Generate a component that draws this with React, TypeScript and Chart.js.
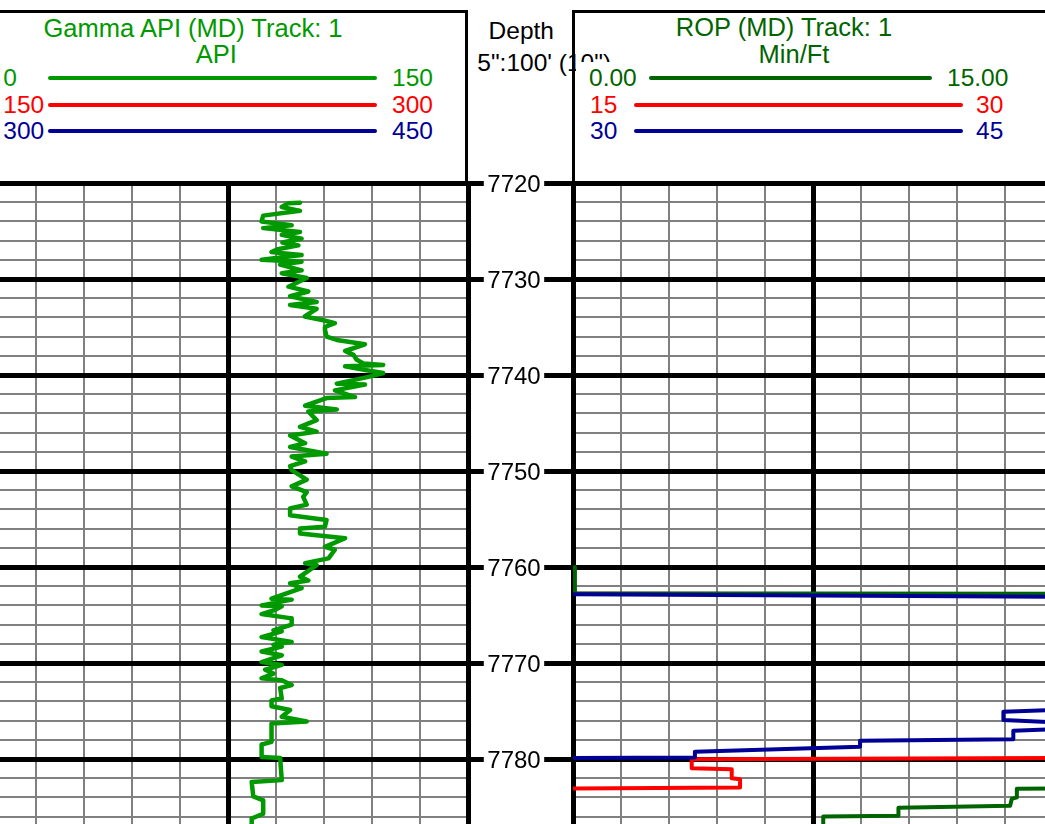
import React, { useEffect, useRef } from "react";
import { Chart, registerables } from "chart.js";

Chart.register(...registerables);

// ---------------- data ----------------
const depthTop = 7720;
const depthBottom = 7786.77;
const depthMinorStep = 2;
const depthMajorStep = 10;

const gammaDepth = [
  7722.05, 7722.1, 7722.5, 7722.9, 7723.4, 7724.0, 7724.4, 7724.7, 7725.1, 7725.4,
  7725.8, 7726.2, 7726.5, 7726.9, 7727.2, 7727.5, 7728.0, 7728.2, 7728.5, 7729.1,
  7729.4, 7729.9, 7730.8, 7731.3, 7731.8, 7732.4, 7732.7, 7733.1, 7733.9, 7734.3,
  7734.6, 7735.0, 7735.3, 7736.0, 7736.35, 7736.8, 7737.5, 7737.9, 7738.4, 7738.8,
  7738.95, 7739.1, 7739.5, 7739.8, 7740.2, 7740.9, 7741.0, 7741.6, 7742.3, 7742.4,
  7743.2, 7743.6, 7743.8, 7744.7, 7745.4, 7745.9, 7746.3, 7747.1, 7747.5, 7748.2,
  7748.5, 7749.0, 7749.5, 7749.9, 7750.9, 7751.6, 7752.2, 7752.7, 7753.5, 7753.9,
  7754.6, 7755.1, 7755.8, 7756.0, 7756.5, 7757.0, 7757.9, 7758.2, 7759.1, 7759.6,
  7759.8, 7761.0, 7761.4, 7761.7, 7762.2, 7763.3, 7763.4, 7764.0, 7764.1, 7764.5,
  7764.9, 7765.35, 7766.0, 7766.6, 7766.7, 7767.3, 7767.8, 7768.1, 7768.3, 7768.8,
  7769.2, 7769.9, 7770.2, 7770.7, 7771.1, 7771.6, 7771.8, 7772.3, 7772.6, 7773.7,
  7773.9, 7774.5, 7774.9, 7775.6, 7776.1, 7776.3, 7778.2, 7778.5, 7779.8, 7779.9,
  7782.2, 7782.4, 7783.9, 7784.3, 7785.7, 7786.2, 7786.8,
];
const gammaApi = [
  97.5, 93.9, 91.8, 97.5, 86.0, 85.5, 94.9, 86.0, 97.5, 91.8,
  98.0, 92.0, 97.0, 90.5, 88.6, 98.0, 85.5, 98.0, 91.3, 98.0,
  91.8, 99.6, 93.9, 100.1, 94.4, 102.7, 94.4, 102.7, 99.0, 104.8,
  108.4, 105.3, 105.3, 105.8, 109.0, 117.8, 111.6, 114.2, 115.2, 117.3,
  123.5, 111.6, 118.3, 123.5, 118.9, 109.0, 117.8, 108.4, 114.7, 105.8,
  99.1, 109.0, 100.1, 102.7, 97.5, 102.7, 94.4, 99.1, 94.4, 105.8,
  94.9, 99.1, 94.4, 94.9, 99.6, 94.9, 99.6, 98.5, 99.6, 94.4,
  94.4, 105.8, 105.3, 97.5, 97.5, 111.6, 105.3, 108.4, 106.4, 99.1,
  102.7, 97.5, 100.1, 94.4, 98.0, 88.6, 94.9, 85.5, 91.8, 89.5,
  85.5, 94.9, 94.9, 89.2, 91.8, 85.5, 94.9, 89.2, 91.8, 85.5,
  91.8, 85.5, 91.8, 86.6, 89.2, 85.5, 91.8, 94.9, 91.3, 91.8,
  88.6, 88.6, 94.4, 91.8, 99.6, 88.6, 88.6, 85.5, 85.5, 91.3,
  91.8, 82.4, 82.9, 86.0, 86.0, 82.4, 82.4,
];

const ropDepth = [
  7760.0, 7762.74, 7762.84, 7763.09, 7763.15, 7774.8, 7774.85, 7775.07, 7775.94, 7776.2,
  7776.5, 7776.85, 7777.05, 7777.95, 7778.09, 7778.72, 7779.24, 7779.85, 7780.03, 7780.97,
  7781.07, 7782.0, 7782.1, 7782.98, 7783.1, 7784.0, 7784.16, 7784.86, 7785.07, 7785.9,
  7786.0, 7786.8,
];
const ropMinFt = [
  0.06, 0.06, 30.0, 45.0, 50.0, 50.0, 45.3, 43.45, 43.45, 45.2,
  47.0, 45.3, 43.76, 43.76, 38.97, 38.97, 33.81, 33.81, 18.71, 18.71,
  19.96, 19.96, 20.22, 20.22, 13.87, 13.87, 13.71, 13.66, 10.17, 10.17,
  7.82, 7.82,
];

const gammaScales = [[0, 150], [150, 300], [300, 450]];
const gammaScaleLabels = [["0", "150"], ["150", "300"], ["300", "450"]];
const ropScales = [[0, 15], [15, 30], [30, 45]];
const ropScaleLabels = [["0.00", "15.00"], ["15", "30"], ["30", "45"]];

// ---------------- styles ----------------
const FONT = '"Liberation Sans", Arial, Helvetica, sans-serif';
const GAMMA_COLORS = ["#009900", "#ff0000", "#000096"];
const ROP_COLORS = ["#006400", "#ff0000", "#000096"];
const LOG_TOP = 183;
const LOG_BOTTOM = 824;
const PAD = 6;
const MINOR_COLOR = "#808080";
const MINOR_WIDTH = 2;
const MAJOR_WIDTH = 5;

function Txt(props: {
  x: number;
  baseline: number;
  size: number;
  color: string;
  align?: "left" | "center";
  text: string;
}) {
  const { x, baseline, size, color, align = "left", text } = props;
  const top = baseline - 0.8464 * size;
  const style: React.CSSProperties = {
    position: "absolute",
    top,
    fontFamily: FONT,
    fontSize: size,
    lineHeight: `${size}px`,
    color,
    whiteSpace: "nowrap",
  };
  if (align === "center") {
    style.left = x - 500;
    style.width = 1000;
    style.textAlign = "center";
  } else {
    style.left = x;
  }
  return <div style={style}>{text}</div>;
}

function HLine(props: { x1: number; x2: number; y: number; color: string }) {
  const { x1, x2, y, color } = props;
  return (
    <div
      style={{
        position: "absolute",
        left: x1,
        top: y - 2,
        width: x2 - x1,
        height: 4,
        background: color,
        borderRadius: 2,
      }}
    />
  );
}

function gridScale(axis: "x" | "y", min: number, max: number, step: number, color: string, width: number, z: number, reverse = false) {
  return {
    type: "linear" as const,
    axis,
    position: axis === "x" ? ("bottom" as const) : ("left" as const),
    reverse,
    min,
    max,
    ticks: { display: false, stepSize: step, includeBounds: false, maxTicksLimit: 1000 },
    grid: { color, lineWidth: width, drawTicks: false, z },
    border: { display: false },
    title: { display: false },
  };
}

function Track(props: {
  left: number;
  width: number;
  depths: number[];
  values: number[];
  ranges: number[][];
  colors: string[];
  lineWidth: number;
}) {
  const { left, width, depths, values, ranges, colors, lineWidth } = props;
  const ref = useRef<HTMLCanvasElement>(null);
  const height = LOG_BOTTOM - LOG_TOP;
  useEffect(() => {
    if (!ref.current) return;
    const span = ranges[0][1] - ranges[0][0];
    // primary drawn above red, blue backup on top
    const drawOrder = [1, 2, 0];
    const datasets = ranges.map((r, i) => ({
      data: depths.map((d, j) => ({ x: values[j] - r[0], y: d })),
      borderColor: colors[i],
      backgroundColor: colors[i],
      borderWidth: lineWidth,
      showLine: true,
      pointRadius: 0,
      pointHoverRadius: 0,
      fill: false,
      tension: 0,
      clip: 0,
      order: drawOrder[i],
      borderJoinStyle: "round" as const,
      borderCapStyle: "round" as const,
      xAxisID: "x",
      yAxisID: "y",
    }));
    const chart = new Chart(ref.current, {
      type: "scatter",
      data: { datasets },
      options: {
        responsive: false,
        animation: false,
        events: [],
        layout: { padding: PAD },
        plugins: { legend: { display: false }, tooltip: { enabled: false } },
        scales: {
          x: gridScale("x", 0, span, span / 10, MINOR_COLOR, MINOR_WIDTH, -3),
          y: gridScale("y", depthTop, depthBottom, depthMinorStep, MINOR_COLOR, MINOR_WIDTH, -3, true),
          xMajor: gridScale("x", 0, span, span / 2, "#000000", MAJOR_WIDTH, -1),
          yMajor: gridScale("y", depthTop, depthBottom, depthMajorStep, "#000000", MAJOR_WIDTH, -1, true),
        },
      } as any,
    });
    return () => chart.destroy();
  }, []);
  return (
    <canvas
      ref={ref}
      width={width + 2 * PAD}
      height={height + 2 * PAD}
      style={{
        position: "absolute",
        left: left - PAD,
        top: LOG_TOP - PAD,
        width: width + 2 * PAD,
        height: height + 2 * PAD,
      }}
    />
  );
}

const depthLabelPlugin = {
  id: "depthLabels",
  afterDraw(chart: any) {
    const { ctx, chartArea, scales } = chart;
    const ys = scales.y;
    const cx = chartArea.left + 46;
    ctx.save();
    ctx.font = `24px ${FONT}`;
    ctx.textAlign = "center";
    ctx.textBaseline = "alphabetic";
    ys.ticks.forEach((t: any) => {
      const py = ys.getPixelForValue(t.value);
      const label = String(t.value);
      const w = ctx.measureText(label).width;
      ctx.fillStyle = "#ffffff";
      ctx.fillRect(cx - w / 2 - 3.5, py - 3.5, w + 7, 7);
      ctx.fillStyle = "#000000";
      ctx.fillText(label, cx, py + 8.6);
    });
    ctx.restore();
  },
};

function DepthTrack(props: { left: number; width: number }) {
  const { left, width } = props;
  const ref = useRef<HTMLCanvasElement>(null);
  const P = 14;
  const height = LOG_BOTTOM - LOG_TOP;
  useEffect(() => {
    if (!ref.current) return;
    const chart = new Chart(ref.current, {
      type: "scatter",
      data: { datasets: [] },
      options: {
        responsive: false,
        animation: false,
        events: [],
        layout: { padding: P },
        plugins: { legend: { display: false }, tooltip: { enabled: false } },
        scales: {
          x: {
            type: "linear",
            min: 0,
            max: 1,
            ticks: { display: false },
            grid: { display: false, drawTicks: false },
            border: { display: false },
          },
          y: gridScale("y", depthTop, depthBottom, depthMajorStep, "#000000", MAJOR_WIDTH, -1, true),
        },
      } as any,
      plugins: [depthLabelPlugin],
    });
    return () => chart.destroy();
  }, []);
  return (
    <canvas
      ref={ref}
      width={width + 2 * P}
      height={height + 2 * P}
      style={{
        position: "absolute",
        left: left - P,
        top: LOG_TOP - P,
        width: width + 2 * P,
        height: height + 2 * P,
      }}
    />
  );
}

export default function App() {
  const legendBaselines = [86.5, 113.5, 139.5];
  const legendLineY = [77.7, 104.5, 130.7];
  return (
    <div
      style={{
        position: "fixed",
        left: 0,
        top: 0,
        width: 1045,
        height: 824,
        overflow: "hidden",
        background: "#ffffff",
      }}
    >
      {/* depth header */}
      <Txt x={521.3} baseline={40} size={24.5} color="#000" align="center" text="Depth" />
      <Txt x={477.3} baseline={71.7} size={24.5} color="#000" text={'5":100\' (10")'} />

      {/* header boxes */}
      <div
        style={{
          position: "absolute",
          left: -20,
          top: 10,
          width: 488,
          height: 175,
          border: "3px solid #000",
          boxSizing: "border-box",
        }}
      />
      <div
        style={{
          position: "absolute",
          left: 572,
          top: 10,
          width: 520,
          height: 175,
          border: "3px solid #000",
          boxSizing: "border-box",
        }}
      />
      <div style={{ position: "absolute", left: 576, top: 62, width: 70, height: 30, background: "#fff" }} />

      {/* gamma header */}
      <Txt x={193} baseline={37.7} size={25.5} color={GAMMA_COLORS[0]} align="center" text="Gamma API (MD) Track: 1" />
      <Txt x={216.3} baseline={63.3} size={25.5} color={GAMMA_COLORS[0]} align="center" text="API" />
      {gammaScaleLabels.map((lab, i) => (
        <React.Fragment key={"g" + i}>
          <Txt x={3.3} baseline={legendBaselines[i]} size={24.5} color={GAMMA_COLORS[i]} text={lab[0]} />
          <HLine x1={48.3} x2={376.7} y={legendLineY[i]} color={GAMMA_COLORS[i]} />
          <Txt x={392} baseline={legendBaselines[i]} size={24.5} color={GAMMA_COLORS[i]} text={lab[1]} />
        </React.Fragment>
      ))}

      {/* rop header */}
      <Txt x={784} baseline={36.7} size={25.5} color={ROP_COLORS[0]} align="center" text="ROP (MD) Track: 1" />
      <Txt x={794} baseline={63.3} size={25.5} color={ROP_COLORS[0]} align="center" text="Min/Ft" />
      {ropScaleLabels.map((lab, i) => (
        <React.Fragment key={"r" + i}>
          <Txt x={i === 0 ? 589 : 590} baseline={legendBaselines[i]} size={24.5} color={ROP_COLORS[i]} text={lab[0]} />
          <HLine x1={i === 0 ? 649 : 634} x2={i === 0 ? 932 : 962.7} y={legendLineY[i]} color={ROP_COLORS[i]} />
          <Txt x={i === 0 ? 947 : 976} baseline={legendBaselines[i]} size={24.5} color={ROP_COLORS[i]} text={lab[1]} />
        </React.Fragment>
      ))}

      {/* tracks */}
      <Track left={-12} width={480} depths={gammaDepth} values={gammaApi} ranges={gammaScales} colors={GAMMA_COLORS} lineWidth={4.5} />
      <DepthTrack left={468} width={105} />
      <Track left={573} width={480} depths={ropDepth} values={ropMinFt} ranges={ropScales} colors={ROP_COLORS} lineWidth={4} />
    </div>
  );
}
